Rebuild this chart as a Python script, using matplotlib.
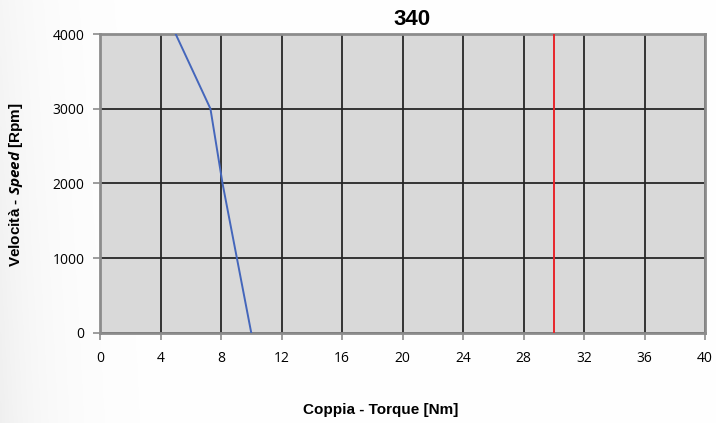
import numpy as np
import matplotlib
matplotlib.use("Agg")
import matplotlib.pyplot as plt

speed_rpm = [0, 1000, 2000, 3000, 4000]
torque_nm = [10.0, 9.05, 8.1, 7.3, 5.0]
limit_torque = 30.0
x_ticks = list(range(0, 41, 4))
y_ticks = [0, 1000, 2000, 3000, 4000]
title = "340"

plt.rcParams['mathtext.fontset'] = 'custom'
plt.rcParams['mathtext.it'] = 'Open Sans:italic:bold'
plt.rcParams['mathtext.rm'] = 'Liberation Sans:bold'

fig = plt.figure(figsize=(7.16, 4.23), dpi=100)

# subtle background gradient at the left edge
bg = fig.add_axes([0, 0, 1, 1], zorder=-10)
gx = np.linspace(0, 1, 300)
gy = np.linspace(0, 1, 200)[:, None]
shade = 1 - 0.06 * np.exp(-gx * 14) * (0.6 + 0.4 * gy)
bg.imshow(np.dstack([shade, shade, shade]), aspect='auto', extent=[0, 1, 0, 1])
bg.axis('off')

ax = fig.add_axes([0.1397, 0.2128, 0.845, 0.7068])
ax.set_facecolor('#d9d9d9')
ax.set_xlim(0, 40)
ax.set_ylim(0, 4000)
ax.set_xticks(x_ticks)
ax.set_yticks(y_ticks)
ax.grid(True, color='#262626', linewidth=1.3)
ax.set_axisbelow(True)

ax.plot(torque_nm, speed_rpm, color='#4466bb', linewidth=1.4, zorder=3)
ax.axvline(limit_torque, color='#e8262b', linewidth=1.4, zorder=3)

for s in ax.spines.values():
    s.set_color('#8c8c8c')
    s.set_linewidth(2)
ax.tick_params(axis='both', colors='#8c8c8c', length=5, width=1.2,
               labelcolor='black', labelsize=10)
for lab in ax.get_xticklabels() + ax.get_yticklabels():
    lab.set_fontfamily('Open Sans')
ax.tick_params(axis='x', pad=8)
ax.tick_params(axis='y', pad=6)

fig.text(0.576, 0.955, title, ha='center', va='center',
         fontsize=16, fontweight='bold', family='Liberation Sans')
fig.text(0.531, 0.031, "Coppia - Torque [Nm]", ha='center', va='center',
         fontsize=11, fontweight='bold', family='Liberation Sans')
fig.text(0.022, 0.563, r"Velocità - $\it{Speed}$ [Rpm]", ha='center', va='center',
         rotation=90, fontsize=11, fontweight='bold', family='Liberation Sans')

fig.savefig('out.png', dpi=100)
